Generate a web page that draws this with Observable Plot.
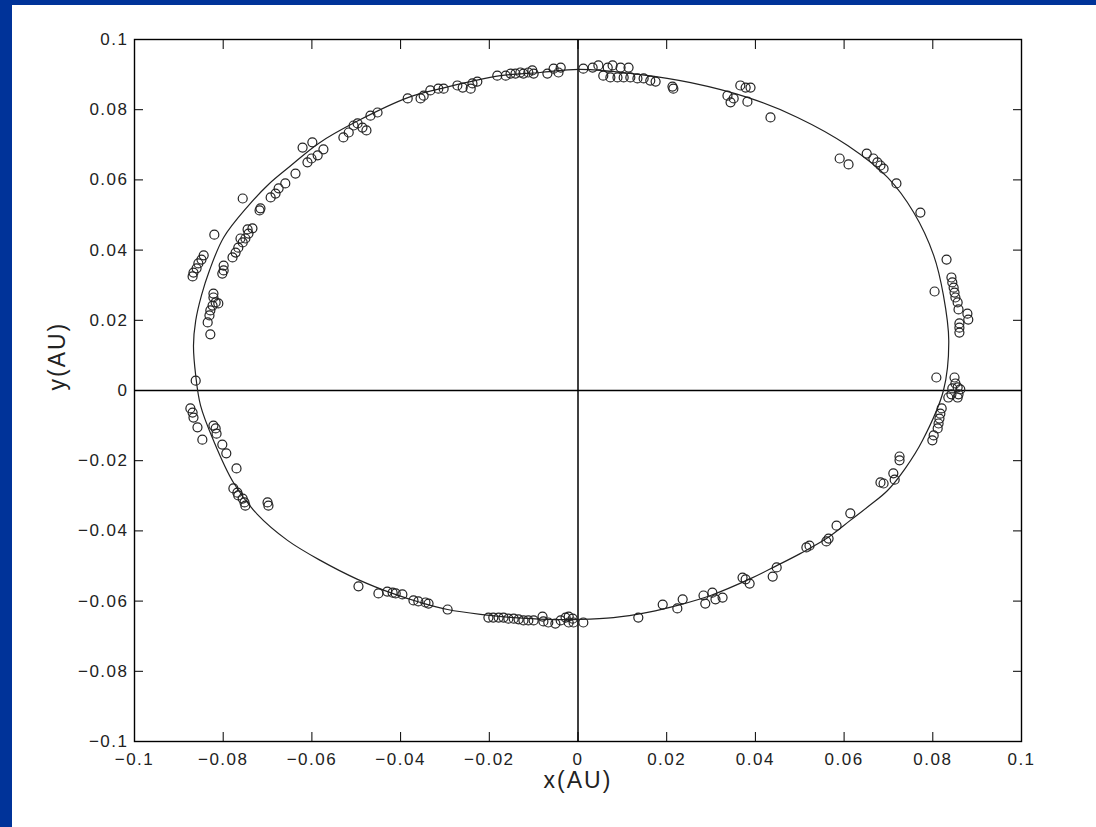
<!DOCTYPE html>
<html>
<head>
<meta charset="utf-8">
<script src="https://cdn.jsdelivr.net/npm/d3@7"></script>
<script src="https://cdn.jsdelivr.net/npm/@observablehq/plot@0.6"></script>
<style>
html, body { margin: 0; padding: 0; }
body { width: 1096px; height: 827px; background: #003399; position: relative; overflow: hidden; }
#panel { position: absolute; left: 12px; top: 5px; width: 1084px; height: 822px; background: #ffffff; }
#panel svg g[aria-label$="tick label"] text { letter-spacing: 1.5px; }
#panel svg g[aria-label="text"] text { letter-spacing: 2px; }
</style>
</head>
<body>
<div id="panel"></div>
<script>
// Tick values for both axes (AU)
const tickValues = [-0.1, -0.08, -0.06, -0.04, -0.02, 0, 0.02, 0.04, 0.06, 0.08, 0.1];

// Fitted orbit curve, points read along the drawn ellipse [x, y] (AU)
const orbitXY = [
  [0.0003, 0.0915], [0.0141, 0.0900], [0.0254, 0.0877], [0.0382, 0.0835], [0.0495, 0.0778],
  [0.0608, 0.0698], [0.0698, 0.0607], [0.0757, 0.0507], [0.0802, 0.0385], [0.0824, 0.0271],
  [0.0836, 0.0142], [0.0824, 0.0000], [0.0777, -0.0142], [0.0738, -0.0222], [0.0698, -0.0285],
  [0.0655, -0.0330], [0.0614, -0.0370], [0.0560, -0.0422], [0.0502, -0.0464], [0.0445, -0.0501],
  [0.0389, -0.0536], [0.0299, -0.0584], [0.0231, -0.0610], [0.0157, -0.0632], [0.0080, -0.0647],
  [0.0003, -0.0652], [-0.0071, -0.0652], [-0.0145, -0.0647], [-0.0220, -0.0638], [-0.0294, -0.0624],
  [-0.0355, -0.0604], [-0.0412, -0.0581], [-0.0497, -0.0538], [-0.0581, -0.0484], [-0.0655, -0.0427],
  [-0.0723, -0.0353], [-0.0777, -0.0262], [-0.0822, -0.0142], [-0.0851, -0.0043], [-0.0862, 0.0043],
  [-0.0867, 0.0128], [-0.0862, 0.0199], [-0.0849, 0.0271], [-0.0831, 0.0342], [-0.0799, 0.0436],
  [-0.0745, 0.0524], [-0.0698, 0.0587], [-0.0650, 0.0638], [-0.0585, 0.0704], [-0.0495, 0.0769],
  [-0.0382, 0.0835], [-0.0310, 0.0860], [-0.0175, 0.0897], [-0.0085, 0.0906]
];

// Observed positions [x, y] (AU)
const observedXY = [
  // upper left arc
  [-0.0384, 0.0832], [-0.0452, 0.0792], [-0.0468, 0.0783], [-0.0477, 0.0741], [-0.0486, 0.0749],
  [-0.0497, 0.0761], [-0.0506, 0.0755], [-0.0517, 0.0735], [-0.0529, 0.0721], [-0.0574, 0.0687],
  [-0.0587, 0.0670], [-0.0599, 0.0707], [-0.0601, 0.0661], [-0.0610, 0.0650], [-0.0621, 0.0692],
  [-0.0637, 0.0618], [-0.0660, 0.0590], [-0.0675, 0.0576], [-0.0693, 0.0550], [-0.0756, 0.0547],
  [-0.0716, 0.0519],
  // top
  [-0.0355, 0.0832], [-0.0348, 0.0840], [-0.0333, 0.0855], [-0.0315, 0.0860], [-0.0303, 0.0860],
  [-0.0272, 0.0869], [-0.0260, 0.0863], [-0.0242, 0.0860], [-0.0238, 0.0875], [-0.0227, 0.0880],
  [-0.0182, 0.0897], [-0.0163, 0.0897], [-0.0152, 0.0903], [-0.0141, 0.0903], [-0.0130, 0.0906],
  [-0.0123, 0.0903], [-0.0112, 0.0906], [-0.0100, 0.0903], [-0.0103, 0.0912], [-0.0069, 0.0903],
  [-0.0055, 0.0917], [-0.0039, 0.0920], [-0.0044, 0.0906], [0.0012, 0.0917], [0.0033, 0.0920],
  [0.0046, 0.0926], [0.0067, 0.0920], [0.0078, 0.0926], [0.0096, 0.0920], [0.0114, 0.0920],
  [0.0057, 0.0897], [0.0073, 0.0892], [0.0089, 0.0892], [0.0103, 0.0892], [0.0118, 0.0892],
  [0.0134, 0.0889], [0.0148, 0.0889], [0.0163, 0.0883], [0.0175, 0.0880], [0.0213, 0.0866],
  [0.0215, 0.0860],
  // upper right arc
  [0.0366, 0.0869], [0.0378, 0.0863], [0.0389, 0.0863], [0.0337, 0.0840], [0.0344, 0.0821],
  [0.0351, 0.0832], [0.0382, 0.0823], [0.0434, 0.0778], [0.0590, 0.0661], [0.0610, 0.0644],
  [0.0651, 0.0675], [0.0666, 0.0661], [0.0675, 0.0650], [0.0682, 0.0641], [0.0689, 0.0632],
  [0.0718, 0.0590], [0.0772, 0.0507], [0.0831, 0.0373],
  // right side
  [0.0842, 0.0322], [0.0844, 0.0308], [0.0847, 0.0293], [0.0849, 0.0279], [0.0851, 0.0265],
  [0.0856, 0.0251], [0.0858, 0.0231], [0.0878, 0.0219], [0.0880, 0.0202], [0.0860, 0.0191],
  [0.0860, 0.0179], [0.0860, 0.0165], [0.0804, 0.0282], [0.0808, 0.0037], [0.0849, 0.0037],
  [0.0851, 0.0020], [0.0844, 0.0006], [0.0856, 0.0009], [0.0862, 0.0003], [0.0842, -0.0011],
  [0.0858, -0.0011], [0.0835, -0.0020], [0.0856, -0.0020], [0.0820, -0.0051], [0.0817, -0.0066],
  [0.0815, -0.0080], [0.0813, -0.0094], [0.0811, -0.0108], [0.0802, -0.0128], [0.0799, -0.0142],
  [0.0725, -0.0188], [0.0725, -0.0199], [0.0711, -0.0236],
  // lower right arc
  [0.0714, -0.0254], [0.0682, -0.0262], [0.0689, -0.0265], [0.0614, -0.0350], [0.0583, -0.0385],
  [0.0565, -0.0422], [0.0560, -0.0430], [0.0522, -0.0442], [0.0515, -0.0447], [0.0448, -0.0504],
  [0.0439, -0.0530], [0.0371, -0.0533], [0.0378, -0.0538], [0.0387, -0.0550], [0.0303, -0.0576],
  [0.0283, -0.0584], [0.0326, -0.0590], [0.0310, -0.0595], [0.0287, -0.0607],
  // bottom
  [-0.0430, -0.0573], [-0.0418, -0.0576], [-0.0411, -0.0578], [-0.0396, -0.0581], [-0.0371, -0.0598],
  [-0.0360, -0.0601], [-0.0344, -0.0604], [-0.0337, -0.0607], [-0.0294, -0.0624], [-0.0202, -0.0647],
  [-0.0191, -0.0647], [-0.0179, -0.0647], [-0.0168, -0.0647], [-0.0157, -0.0650], [-0.0145, -0.0650],
  [-0.0134, -0.0652], [-0.0123, -0.0655], [-0.0112, -0.0655], [-0.0100, -0.0655], [-0.0080, -0.0644],
  [-0.0078, -0.0658], [-0.0067, -0.0661], [-0.0051, -0.0664], [-0.0039, -0.0655], [-0.0028, -0.0647],
  [-0.0021, -0.0644], [-0.0012, -0.0650], [-0.0021, -0.0661], [-0.0010, -0.0661], [0.0012, -0.0661],
  [0.0136, -0.0647], [0.0191, -0.0610], [0.0224, -0.0621], [0.0236, -0.0595],
  // lower left arc
  [-0.0862, 0.0028], [-0.0874, -0.0051], [-0.0869, -0.0063], [-0.0867, -0.0077], [-0.0858, -0.0105],
  [-0.0847, -0.0140], [-0.0822, -0.0100], [-0.0817, -0.0108], [-0.0815, -0.0123], [-0.0802, -0.0154],
  [-0.0793, -0.0179], [-0.0770, -0.0222], [-0.0777, -0.0279], [-0.0768, -0.0291], [-0.0766, -0.0299],
  [-0.0756, -0.0308], [-0.0752, -0.0319], [-0.0750, -0.0328], [-0.0700, -0.0319], [-0.0698, -0.0328],
  [-0.0495, -0.0558], [-0.0450, -0.0578],
  // left side
  [-0.0820, 0.0444], [-0.0844, 0.0385], [-0.0849, 0.0373], [-0.0856, 0.0362], [-0.0860, 0.0348],
  [-0.0867, 0.0336], [-0.0869, 0.0325], [-0.0799, 0.0356], [-0.0799, 0.0342], [-0.0802, 0.0333],
  [-0.0822, 0.0276], [-0.0822, 0.0265], [-0.0817, 0.0251], [-0.0811, 0.0248], [-0.0824, 0.0242],
  [-0.0829, 0.0228], [-0.0831, 0.0214], [-0.0835, 0.0194], [-0.0829, 0.0160], [-0.0779, 0.0379],
  [-0.0772, 0.0393], [-0.0766, 0.0407], [-0.0756, 0.0422], [-0.0750, 0.0433], [-0.0743, 0.0447],
  [-0.0734, 0.0462], [-0.0745, 0.0459], [-0.0761, 0.0433], [-0.0718, 0.0513], [-0.0682, 0.0561]
];

const xLabel = "x(AU)";
const yLabel = "y(AU)";

const orbit = orbitXY.map(([x, y]) => ({x, y}));
const observed = observedXY.map(([x, y]) => ({x, y}));
const fmt = d3.format("~g");

const chart = Plot.plot({
  width: 1084,
  height: 822,
  marginLeft: 122,
  marginRight: 75,
  marginTop: 34,
  marginBottom: 86,
  x: {domain: [-0.1, 0.1]},
  y: {domain: [-0.1, 0.1]},
  style: {fontFamily: "'Liberation Sans', Arial, Helvetica, sans-serif", background: "#ffffff", color: "#111"},
  marks: [
    Plot.ruleX([0], {stroke: "#000", strokeWidth: 1.5}),
    Plot.ruleY([0], {stroke: "#000", strokeWidth: 1.5}),
    Plot.line(orbit, {x: "x", y: "y", curve: "catmull-rom-closed", stroke: "#222", strokeWidth: 1.2}),
    Plot.dot(observed, {x: "x", y: "y", r: 4.5, stroke: "#222", strokeWidth: 1.2, fill: "none"}),
    Plot.frame({stroke: "#000", strokeWidth: 1.4}),
    Plot.axisX({ticks: tickValues, tickSize: -9, fill: "none", label: null, stroke: "#000"}),
    Plot.axisX({anchor: "top", ticks: tickValues, tickSize: -9, fill: "none", label: null, stroke: "#000"}),
    Plot.axisY({ticks: tickValues, tickSize: -9, fill: "none", label: null, stroke: "#000"}),
    Plot.axisY({anchor: "right", ticks: tickValues, tickSize: -9, fill: "none", label: null, stroke: "#000"}),
    Plot.axisX({ticks: tickValues, tickSize: 0, tickPadding: 11, tickFormat: fmt, label: null, fontSize: 17, fill: "#222"}),
    Plot.axisY({ticks: tickValues, tickSize: 0, tickPadding: 6, tickFormat: fmt, label: null, fontSize: 17, fill: "#222"}),
    Plot.text([xLabel], {text: d => d, frameAnchor: "bottom", dy: 46, fontSize: 23, fill: "#222"}),
    Plot.text([yLabel], {text: d => d, frameAnchor: "left", dx: -77, rotate: -90, fontSize: 23, fill: "#222"})
  ]
});

document.getElementById("panel").appendChild(chart);
</script>
</body>
</html>
